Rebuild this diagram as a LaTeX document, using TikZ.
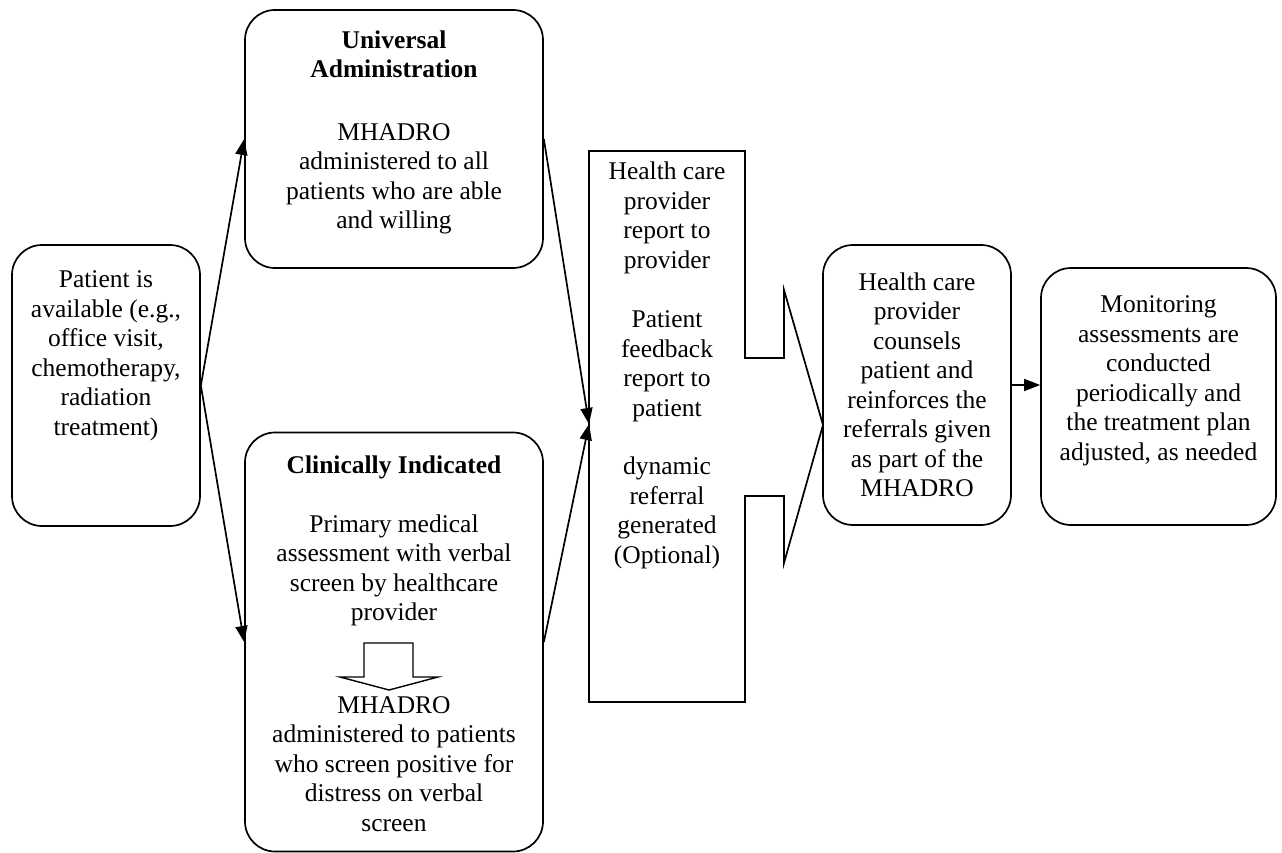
\documentclass[tikz,border=0pt]{standalone}
\usepackage{fontspec}
\setmainfont{Liberation Serif}
\usetikzlibrary{arrows.meta}
\usetikzlibrary{positioning}

\begin{document}
\begin{tikzpicture}[x=1pt,y=-1pt,line width=1.7pt,
  box/.style={draw,rounded corners=30pt,inner sep=0pt},
  txt/.style={align=center,inner sep=0pt,font=\fontsize{25.5}{29.5}\selectfont},
  arr/.style={-{Triangle[length=16pt,width=12pt]}}]
  \useasboundingbox (0,0) rectangle (1282,853);

  \node[box,minimum width=188pt,minimum height=281pt] (patient) at (106,385.5){};
  \node[box,minimum width=298pt,minimum height=258pt] (univ) at (394,139){};
  \node[box,minimum width=298pt,minimum height=419pt] (clin) at (394,642){};
  \node[box,minimum width=188pt,minimum height=280pt] (counsel) at (917,385){};
  \node[box,minimum width=235pt,minimum height=257pt] (monitor) at (1158.5,396.5){};

  \node[txt] (patienttext) at (106,356) {Patient is\\available (e.g.,\\office visit,\\chemotherapy,\\radiation\\treatment)};
  \node[txt] (univtext) at (394,132.5) {\textbf{Universal}\\\textbf{Administration}\\[33pt]MHADRO\\administered to all\\patients who are able\\and willing};
  \node[txt] (clintext) at (394,541) {\textbf{Clinically Indicated}\\[29.5pt]Primary medical\\assessment with verbal\\screen by healthcare\\provider};
  \node[txt] (mhadrotext) at (394,764) {MHADRO\\administered to patients\\who screen positive for\\distress on verbal\\screen};
  \node[txt] (reporttext) at (667,365.5) {Health care\\provider\\report to\\provider\\[30pt]Patient\\feedback\\report to\\patient\\[29pt]dynamic\\referral\\generated\\(Optional)};
  \node[txt] (counseltext) at (917,385) {Health care\\provider\\counsels\\patient and\\reinforces the\\referrals given\\as part of the\\MHADRO};
  \node[txt] (monitortext) at (1158.5,381) {Monitoring\\assessments are\\conducted\\periodically and\\the treatment plan\\adjusted, as needed};

  \coordinate (reportin) at (589,424);
  \coordinate (reporttip) at (823,425);
  \draw (745,358) -- (784,358) -- (784,290) -- (reporttip) -- (784,563) -- (784,496) -- (745,496)
    -- (745,702) -- (589,702) -- (589,151) -- (745,151) -- cycle;
  \draw[line width=1.4pt] (364,643) -- (413,643) -- (413,677) -- (438,677) -- (389,690)
    -- (340,677) -- (364,677) -- cycle;

  \draw[arr] (patient.east) -- (univ.west);
  \draw[arr] (patient.east) -- (clin.west);
  \draw[arr] (univ.east) -- (reportin);
  \draw[arr] (clin.east) -- (reportin);
  \draw[arr] (counsel.east) -- (counsel.east -| monitor.west);
\end{tikzpicture}
\end{document}
